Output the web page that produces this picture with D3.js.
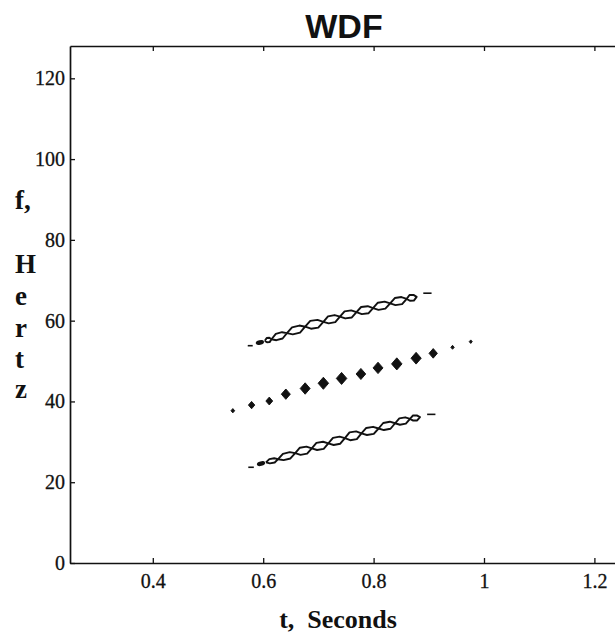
<!DOCTYPE html>
<html>
<head>
<meta charset="utf-8">
<script src="https://cdn.jsdelivr.net/npm/d3@7"></script>
<style>
  html, body { margin: 0; padding: 0; background: #fff; }
  svg { display: block; }
</style>
</head>
<body>
<svg id="chart" width="615" height="639"></svg>
<script>
// ---------- data ----------
const xTicks = [0.4, 0.6, 0.8, 1, 1.2];
const xTickLabels = ["0.4", "0.6", "0.8", "1", "1.2"];
const yTicks = [0, 20, 40, 60, 80, 100, 120];
const yTickLabels = ["0", "20", "40", "60", "80", "100", "120"];
const xDomain = [0.25, 1.25];
const yDomain = [0, 128];

// upper auto-term: pinch points of the contour chain [t (s), f (Hz)]
const upperChain = [[0.603,55.0],[0.615,55.4],[0.643,56.9],[0.676,58.5],[0.709,59.7],[0.739,61.0],
                    [0.769,62.1],[0.799,63.1],[0.830,64.3],[0.860,65.4],[0.878,65.9]];
const upperHalfWidth = [0.6,0.9,1.0,1.1,1.0,1.0,1.0,1.0,1.0,0.8];
const upperBlob = [0.594, 54.6];
const upperDashes = [[[0.572,53.8],[0.581,53.8]], [[0.890,66.8],[0.905,66.8]]];

// lower auto-term
const lowerChain = [[0.605,24.9],[0.627,25.7],[0.658,27.2],[0.688,28.4],[0.718,29.6],[0.748,30.9],
                    [0.778,32.1],[0.809,33.3],[0.839,34.6],[0.866,35.7],[0.884,36.1]];
const lowerHalfWidth = [0.6,0.9,1.0,1.0,1.0,1.1,1.0,1.0,0.9,0.7];
const lowerBlob = [0.596, 24.6];
const lowerDashes = [[[0.573,23.7],[0.583,23.7]], [[0.897,36.8],[0.912,36.8]]];

// cross-term blobs [t, f]
const crossT = [0.545,0.579,0.611,0.641,0.676,0.709,0.742,0.777,0.808,0.842,0.877,0.908,0.943,0.976];
const crossF = [37.7,39.1,40.1,41.8,43.2,44.5,45.7,46.8,48.3,49.3,50.7,51.9,53.4,54.8];
const crossAmp = [0.12,0.35,0.40,0.70,0.85,0.95,0.95,0.80,0.85,0.95,0.90,0.60,0.10,0.08];

// ---------- chart ----------
const svg = d3.select("#chart");
const x = d3.scaleLinear().domain(xDomain).range([70, 622]);
const y = d3.scaleLinear().domain(yDomain).range([563, 46]);
const serif = "'Liberation Serif', 'Times New Roman', Times, serif";
const sans = "'Liberation Sans', Arial, Helvetica, sans-serif";

// axes
const gB = svg.append("g").attr("transform", `translate(0,${y(0)})`)
  .call(d3.axisBottom(x).tickValues(xTicks).tickFormat((d,i)=>xTickLabels[i])
        .tickSizeInner(-5).tickSizeOuter(0).tickPadding(11));
const gT = svg.append("g").attr("transform", `translate(0,${y(yDomain[1])})`)
  .call(d3.axisTop(x).tickValues(xTicks).tickFormat("").tickSizeInner(-5).tickSizeOuter(0));
const gL = svg.append("g").attr("transform", `translate(${x(xDomain[0])},0)`)
  .call(d3.axisLeft(y).tickValues(yTicks).tickFormat((d,i)=>yTickLabels[i])
        .tickSizeInner(-5).tickSizeOuter(0).tickPadding(5));
const gR = svg.append("g").attr("transform", `translate(${x(xDomain[1])},0)`)
  .call(d3.axisRight(y).tickValues(yTicks).tickFormat("").tickSizeInner(-5).tickSizeOuter(0));

[gB, gT, gL, gR].forEach(g => {
  g.attr("font-size", 20).attr("font-family", serif);
  g.selectAll("path.domain").attr("stroke", "#111").attr("stroke-width", 1.7);
  g.selectAll(".tick line").attr("stroke", "#111").attr("stroke-width", 1.3);
  g.selectAll("text").attr("font-family", serif).attr("font-size", 20)
    .attr("fill", "#111").attr("stroke", "#111").attr("stroke-width", 0.3);
});

// contour chains
const line = d3.line().x(d => x(d[0])).y(d => y(d[1]));
function drawChain(chain, hw, blob, dashes) {
  const g = svg.append("g");
  for (let i = 0; i < chain.length - 1; i++) {
    const p0 = chain[i], p1 = chain[i+1];
    const mt = (p0[0] + p1[0]) / 2, mf = (p0[1] + p1[1]) / 2, dt = p1[0] - p0[0], df = p1[1] - p0[1];
    const loop = [
      p0,
      [mt - 0.22*dt, mf - 0.22*df + hw[i]],
      [mt + 0.18*dt, mf + 0.18*df + hw[i]*0.8],
      p1,
      [mt + 0.22*dt, mf + 0.22*df - hw[i]],
      [mt - 0.18*dt, mf - 0.18*df - hw[i]*0.8],
      p0
    ];
    g.append("path").attr("d", line(loop))
      .attr("fill", "none").attr("stroke", "#111").attr("stroke-width", 1.9)
      .attr("stroke-linejoin", "round");
  }
  g.append("ellipse").attr("cx", x(blob[0])).attr("cy", y(blob[1]))
    .attr("rx", 4.2).attr("ry", 2.3).attr("fill", "#111")
    .attr("transform", `rotate(-15,${x(blob[0])},${y(blob[1])})`);
  dashes.forEach(d => g.append("path").attr("d", line(d))
    .attr("stroke", "#111").attr("stroke-width", 1.6).attr("fill", "none"));
}
drawChain(upperChain, upperHalfWidth, upperBlob, upperDashes);
drawChain(lowerChain, lowerHalfWidth, lowerBlob, lowerDashes);

// cross terms
const area = d3.scaleLinear().domain([0, 1]).range([0, 58]);
svg.append("g").selectAll("path").data(crossT).join("path")
  .attr("transform", (d,i) => `translate(${x(d)},${y(crossF[i])}) scale(1,1.15) rotate(45)`)
  .attr("d", (d,i) => d3.symbol().type(d3.symbolSquare).size(area(crossAmp[i]))())
  .attr("fill", "#111").attr("stroke", "#111").attr("stroke-width", 0.8)
  .attr("stroke-linejoin", "round");

// title
svg.append("text").attr("x", 344).attr("y", 38).attr("text-anchor", "middle")
  .attr("font-family", sans).attr("font-weight", "bold").attr("font-size", 34)
  .attr("fill", "#111").text("WDF");

// x label
svg.append("text").attr("x", 338).attr("y", 628).attr("text-anchor", "middle")
  .attr("font-family", serif).attr("font-weight", "bold").attr("font-size", 26)
  .attr("fill", "#111").style("white-space", "pre").text("t,  Seconds");

// y label (stacked letters)
const yLabelLetters = ["f,", "H", "e", "r", "t", "z"];
const yLabelBase = [209, 273, 305, 337, 368, 398];
svg.append("g").selectAll("text").data(yLabelLetters).join("text")
  .attr("x", 15).attr("y", (d,i) => yLabelBase[i])
  .attr("font-family", serif).attr("font-weight", "bold").attr("font-size", 27)
  .attr("fill", "#111").text(d => d);
</script>
</body>
</html>
